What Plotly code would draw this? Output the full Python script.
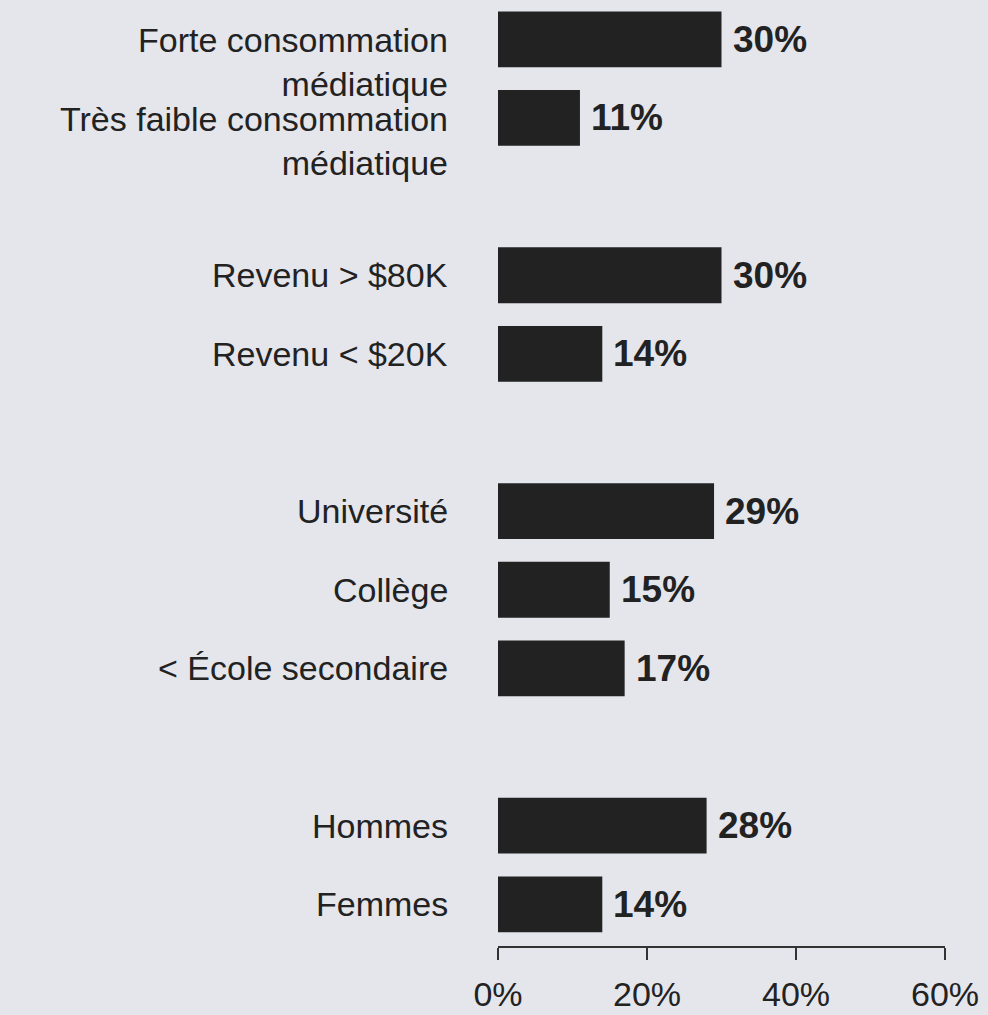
import plotly.graph_objects as go

# Data
categories = [
    "Forte consommation<br>médiatique",
    "Très faible consommation<br>médiatique",
    "Revenu > $80K",
    "Revenu < $20K",
    "Université",
    "Collège",
    "< École secondaire",
    "Hommes",
    "Femmes",
]
groups = ["Médias", "Médias", "Revenu", "Revenu",
          "Scolarité", "Scolarité", "Scolarité", "Sexe", "Sexe"]
values = [30, 11, 30, 14, 29, 15, 17, 28, 14]
tick_values = [0, 20, 40, 60]
tick_labels = ["0%", "20%", "40%", "60%"]

# slot positions: one empty slot between groups
positions = []
pos = 0
for i, g in enumerate(groups):
    if i > 0 and g != groups[i - 1]:
        pos += 1
    positions.append(pos)
    pos += 1

bg = "#e4e6ec"
ink = "#222222"
font = "Liberation Sans, Arial, sans-serif"

fig = go.Figure()
fig.add_trace(go.Bar(
    x=values, y=positions, orientation="h",
    marker=dict(color=ink, line=dict(width=0)),
    width=0.71, hoverinfo="x",
))

# value labels to the right of each bar
for v, p in zip(values, positions):
    fig.add_annotation(x=v, y=p, text=f"<b>{v}%</b>", showarrow=False,
                       xanchor="left", yanchor="middle", xshift=9,
                       font=dict(family=font, size=37, color=ink))

# category labels, two-line labels have their first line at the bar
for c, p in zip(categories, positions):
    two_lines = "<br>" in c
    fig.add_annotation(x=0, xref="paper", y=p, text=c, showarrow=False,
                       xanchor="right", yanchor="middle", align="right",
                       xshift=-48, yshift=-23 if two_lines else 0,
                       font=dict(family=font, size=34, color=ink))

fig.update_layout(
    width=988, height=1015,
    margin=dict(l=498, r=43, t=0, b=69),
    paper_bgcolor=bg, plot_bgcolor=bg,
    showlegend=False,
    font=dict(family=font, color=ink),
)
fig.update_xaxes(
    range=[0, 60], tickvals=tick_values, ticktext=tick_labels,
    showgrid=False, zeroline=False, automargin=False,
    showline=True, linecolor="#333333", linewidth=2,
    ticks="outside", ticklen=12, tickwidth=2, tickcolor="#333333",
    ticklabelstandoff=5,
    tickfont=dict(family=font, size=34, color=ink),
)
fig.update_yaxes(
    range=[max(positions) + 0.53, -0.5], automargin=False,
    showticklabels=False, showgrid=False, zeroline=False, showline=False,
)

fig.write_html("out.html", config={"displayModeBar": False}, post_script=(
    "document.body.style.margin='0';"
    "document.body.style.background='" + bg + "';"
))
